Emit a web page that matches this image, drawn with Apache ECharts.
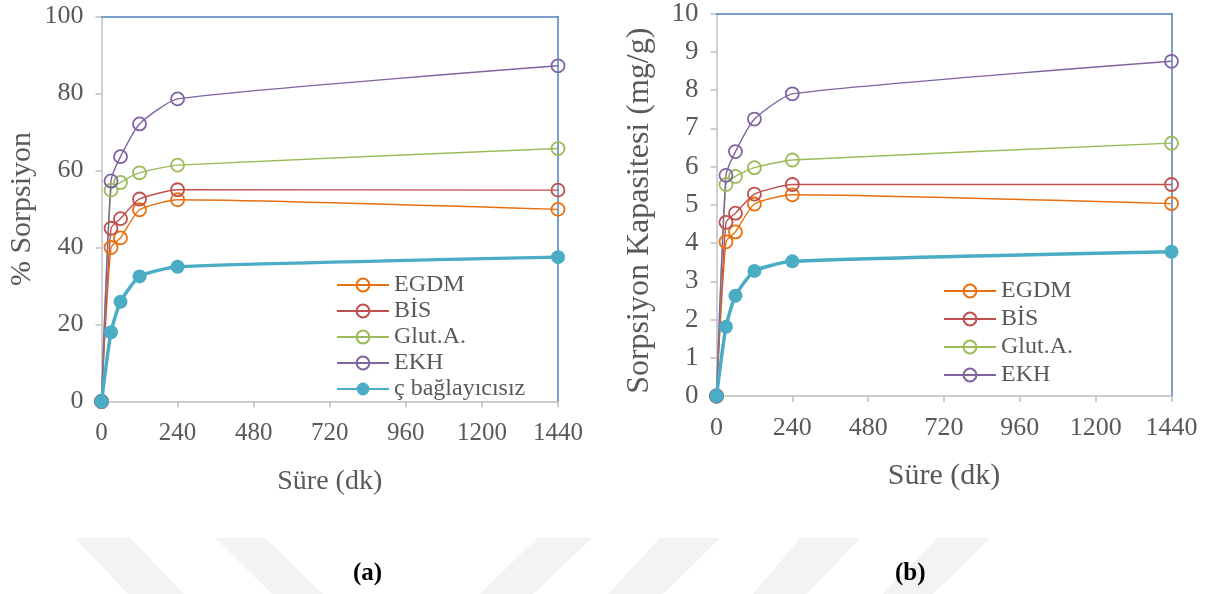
<!DOCTYPE html>
<html>
<head>
<meta charset="utf-8">
<script src="https://cdn.jsdelivr.net/npm/echarts@6/dist/echarts.min.js"></script>
<style>
html,body{margin:0;padding:0;background:#fff;}
#chart{width:1210px;height:594px;}
</style>
</head>
<body>
<div id="chart"></div>
<script>
// ---- data ----
const times = [0, 30, 60, 120, 240, 1440];
const seriesNames = ['EGDM', 'BİS', 'Glut.A.', 'EKH', 'ç bağlayıcısız'];
const sorpEGDM = [0, 40.0, 42.5, 49.8, 52.4, 49.9];
const sorpBIS  = [0, 45.0, 47.5, 52.6, 55.0, 54.9];
const sorpGlut = [0, 54.9, 56.9, 59.4, 61.4, 65.7];
const sorpEKH  = [0, 57.3, 63.6, 72.1, 78.6, 87.2];
const sorpCB   = [0, 18.0, 25.9, 32.5, 35.0, 37.5];
const capEGDM = [0, 4.03, 4.29, 5.02, 5.26, 5.03];
const capBIS  = [0, 4.54, 4.78, 5.28, 5.53, 5.53];
const capGlut = [0, 5.53, 5.74, 5.97, 6.17, 6.61];
const capEKH  = [0, 5.77, 6.39, 7.24, 7.90, 8.75];
const capCB   = [0, 1.81, 2.62, 3.27, 3.52, 3.77];
const xTitle = 'Süre (dk)';
const yTitleA = '% Sorpsiyon';
const yTitleB = 'Sorpsiyon Kapasitesi (mg/g)';
const captions = ['(a)', '(b)'];

// ---- styling ----
const FONT = "'Liberation Serif', 'Times New Roman', serif";
const TXT = '#595959';
const AX = '#BFBFBF';
const BLUE = '#4F81BD';
const colors = ['#E8700F', '#C0504D', '#9BBB59', '#8064A2', '#4BACC6'];

function pairs(vals) { return times.map((t, i) => [t, vals[i]]); }

function mk(idx, vals, gi) {
  const c = colors[idx];
  const cb = idx === 4;
  return {
    name: seriesNames[idx], type: 'line', xAxisIndex: gi * 2, yAxisIndex: gi * 2,
    data: pairs(vals), smooth: 0.18, symbol: 'circle',
    symbolSize: cb ? 14 : 13,
    lineStyle: { color: c, width: cb ? 3.5 : 1.4 },
    itemStyle: cb ? { color: c } : { color: 'rgba(255,255,255,0)', borderColor: c, borderWidth: 1.8 },
    z: cb ? 3 : 2, animation: false,
    emphasis: { disabled: true }
  };
}

function xAx(gi) {
  return [{
    gridIndex: gi, type: 'value', min: 0, max: 1440, interval: 240,
    axisLine: { show: true, onZero: false, lineStyle: { color: AX, width: 1.5 } },
    axisTick: { show: true, length: 6, lineStyle: { color: AX, width: 1.5 } },
    axisLabel: { fontSize: gi ? 26 : 25, color: TXT, fontFamily: FONT, margin: 19, formatter: v => String(v) },
    splitLine: { show: false },
    name: xTitle, nameLocation: 'middle', nameGap: gi ? 65 : 66,
    nameTextStyle: { fontSize: gi ? 30 : 28, color: TXT, fontFamily: FONT }
  }, {
    gridIndex: gi, type: 'value', min: 0, max: 1440, position: 'top',
    axisLine: { show: true, onZero: false, lineStyle: { color: BLUE, width: 1.5 } },
    axisTick: { show: false }, axisLabel: { show: false }, splitLine: { show: false }
  }];
}
function yAx(gi, max, interval, name, gap, pad) {
  return [{
    gridIndex: gi, type: 'value', min: 0, max: max, interval: interval,
    axisLine: { show: true, onZero: false, lineStyle: { color: AX, width: 1.5 } },
    axisTick: { show: true, length: 6, lineStyle: { color: AX, width: 1.5 } },
    axisLabel: { fontSize: gi ? 27 : 26, color: TXT, fontFamily: FONT, margin: 18, formatter: v => String(v) },
    splitLine: { show: false },
    name: name, nameLocation: 'middle', nameGap: gap,
    nameTextStyle: { fontSize: gi ? 32 : 30, color: TXT, fontFamily: FONT, padding: pad }
  }, {
    gridIndex: gi, type: 'value', min: 0, max: max, position: 'right',
    axisLine: { show: true, onZero: false, lineStyle: { color: BLUE, width: 1.5 } },
    axisTick: { show: false }, axisLabel: { show: false }, splitLine: { show: false }
  }];
}

function stripe(pts) {
  return { type: 'polygon', silent: true, z: -10, shape: { points: pts }, style: { fill: '#F3F3F3' } };
}

const option = {
  backgroundColor: '#fff',
  animation: false,
  grid: [
    { left: 101.5, top: 16.5, width: 456.5, height: 385 },
    { left: 716.5, top: 11, width: 455, height: 385 }
  ],
  xAxis: [...xAx(0), ...xAx(1)],
  yAxis: [...yAx(0, 100, 20, yTitleA, 64, [0, 0, 0, 0]), ...yAx(1, 10, 1, yTitleB, 61, [0, 12, 0, 0])],
  legend: [
    { data: seriesNames, orient: 'vertical', left: 336, top: 272, padding: 0, itemWidth: 52, itemHeight: 16, itemGap: 0,
      textStyle: { fontSize: 24, lineHeight: 26, color: TXT, fontFamily: FONT }, selectedMode: false },
    { data: seriesNames.slice(0, 4), orient: 'vertical', left: 943, top: 277, padding: 0, itemWidth: 52, itemHeight: 16, itemGap: 0,
      textStyle: { fontSize: 24, lineHeight: 28, color: TXT, fontFamily: FONT }, selectedMode: false }
  ],
  series: [
    mk(0, sorpEGDM, 0), mk(1, sorpBIS, 0), mk(2, sorpGlut, 0), mk(3, sorpEKH, 0), mk(4, sorpCB, 0),
    mk(0, capEGDM, 1), mk(1, capBIS, 1), mk(2, capGlut, 1), mk(3, capEKH, 1), mk(4, capCB, 1)
  ],
  graphic: [
    stripe([[75,538],[130,538],[184,594],[128,594]]),
    stripe([[215,538],[265,538],[323,594],[272,594]]),
    stripe([[537,538],[592,538],[533,594],[480,594]]),
    stripe([[660,538],[720,538],[663,594],[608,594]]),
    stripe([[800,538],[860,538],[807,594],[753,594]]),
    stripe([[937,538],[990,538],[933,594],[883,594]]),
    { type: 'text', left: 353, top: 561, z: 10, style: { text: captions[0], font: "bold 25px 'Liberation Serif', serif", fill: '#000' } },
    { type: 'text', left: 895, top: 561, z: 10, style: { text: captions[1], font: "bold 25px 'Liberation Serif', serif", fill: '#000' } }
  ]
};

const chart = echarts.init(document.getElementById('chart'), null, { renderer: 'canvas' });
chart.setOption(option);
</script>
</body>
</html>
